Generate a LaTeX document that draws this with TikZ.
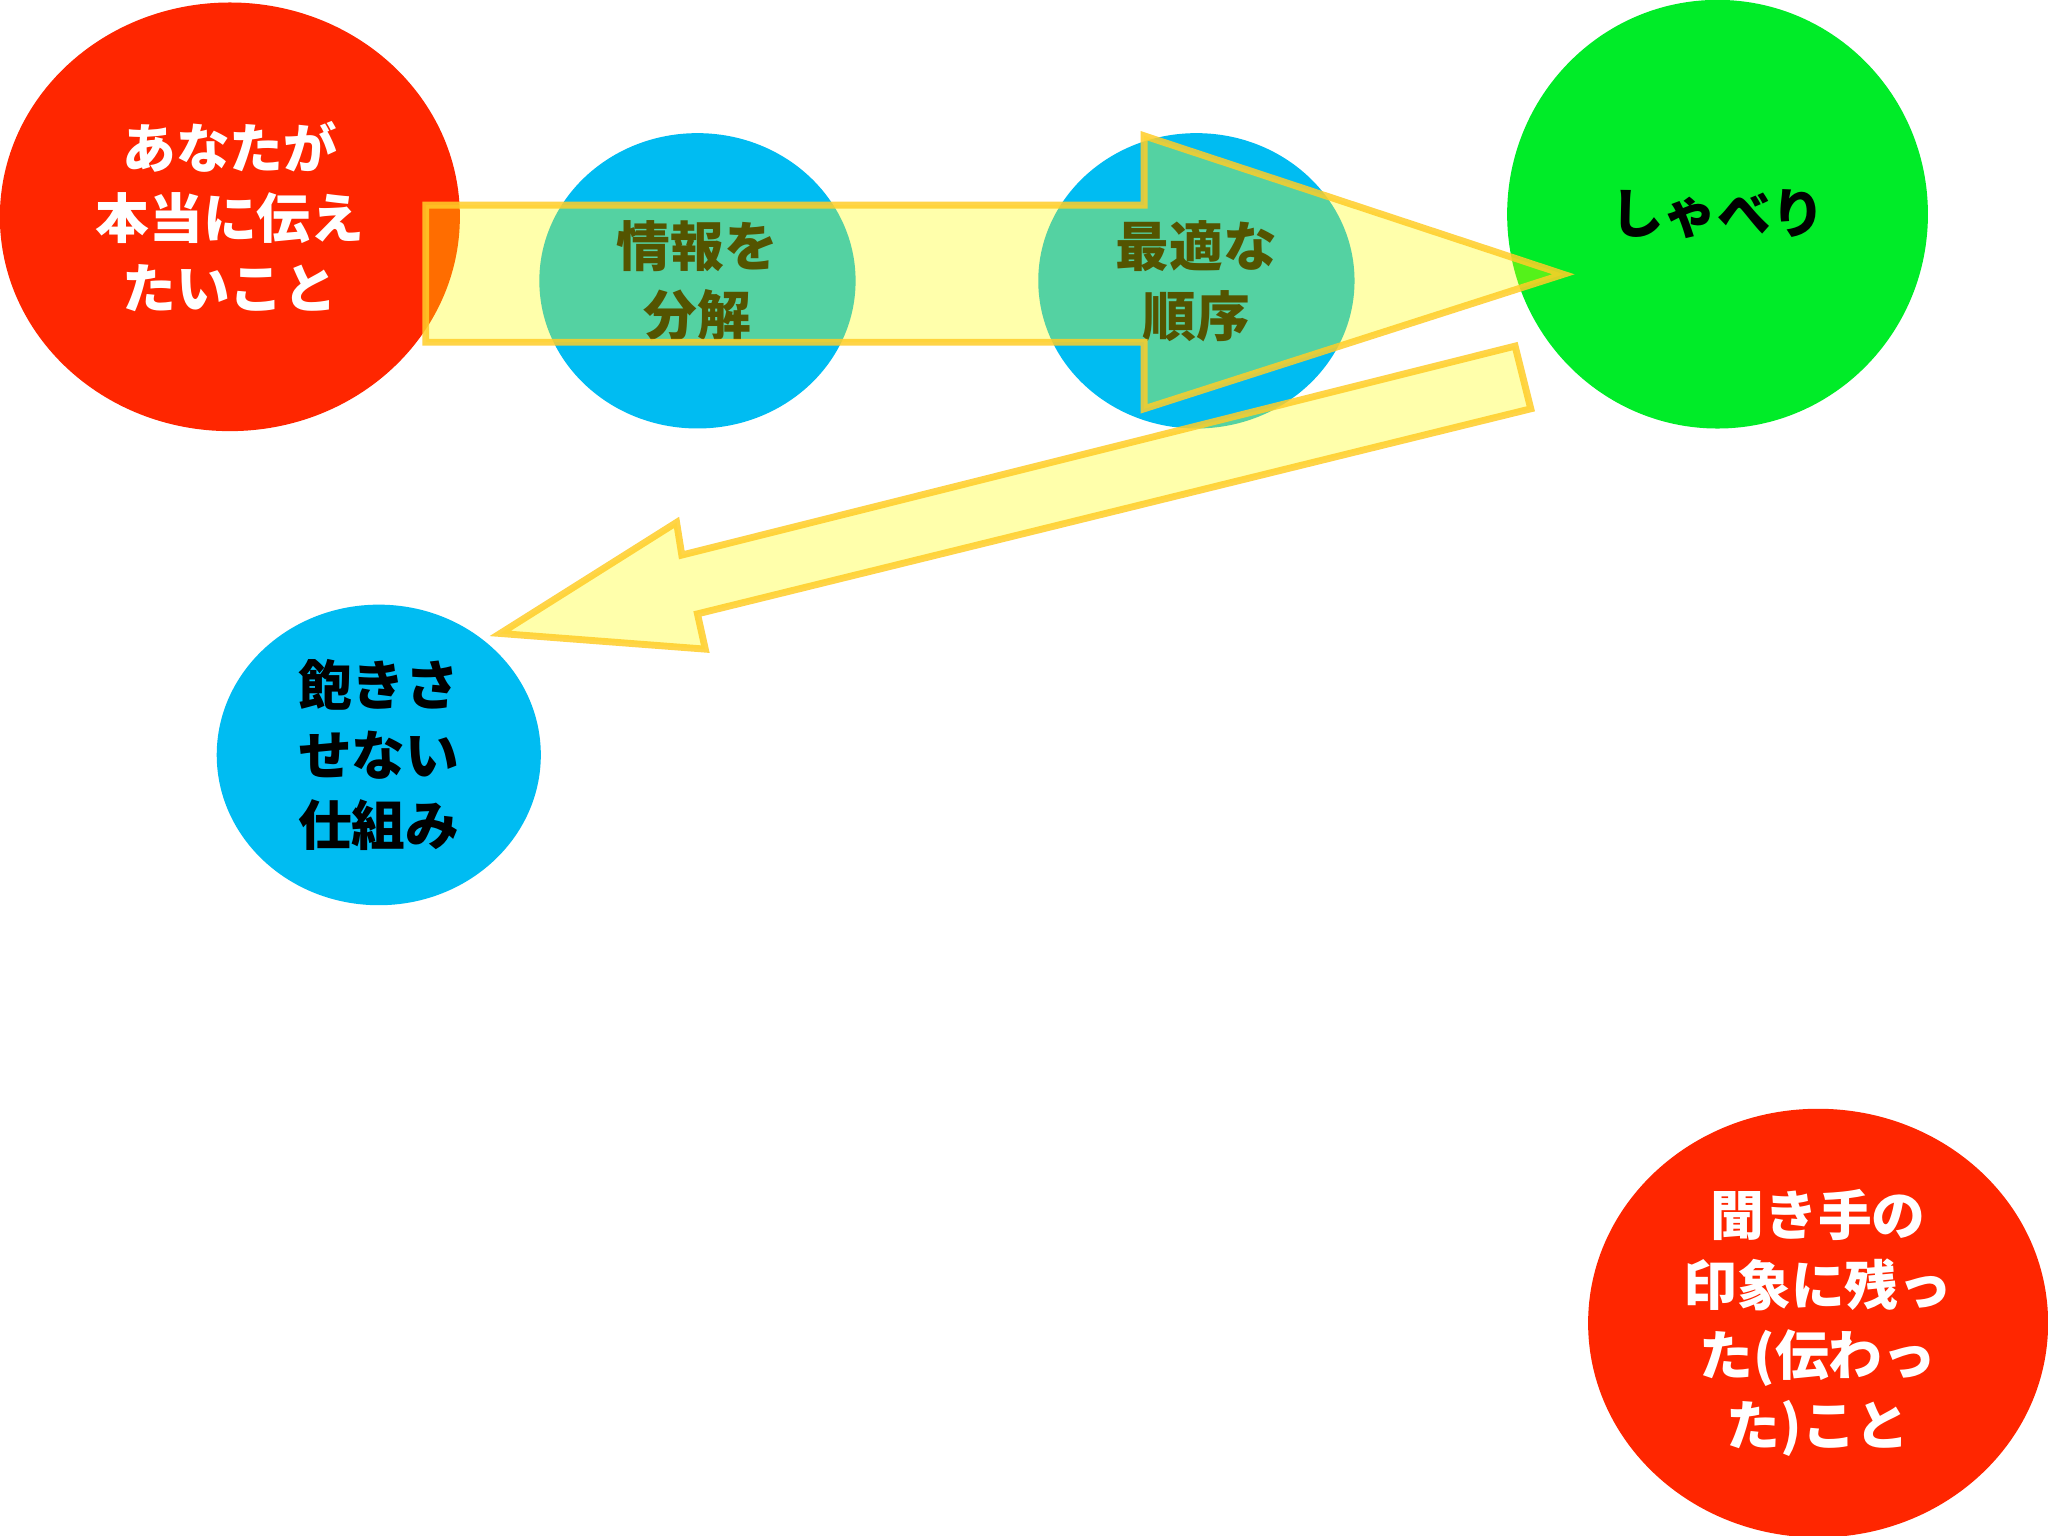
\documentclass[tikz,border=0pt]{standalone}
\usepackage{fontspec}
\newfontfamily\jp{Noto Sans CJK JP}
\usetikzlibrary{shapes.geometric}
\definecolor{cred}{RGB}{255,38,0}
\definecolor{cblue}{RGB}{0,188,242}
\definecolor{cgreen}{RGB}{0,236,40}
\definecolor{agold}{RGB}{255,205,40}
\definecolor{ayellow}{RGB}{255,255,0}
\begin{document}
\begin{tikzpicture}[x=0.01cm,y=-0.01cm,
 bubble/.style={ellipse, inner sep=0pt, align=center, font=\jp\bfseries\fontsize{11.7}{15.2}\selectfont},
 redb/.style={bubble, fill=cred, text=white, minimum width=3.52cm, minimum height=3.28cm},
 blueb/.style={bubble, fill=cblue, text=black, minimum width=2.42cm, minimum height=2.26cm},
 greenb/.style={bubble, fill=cgreen, text=black, minimum width=3.22cm, minimum height=3.28cm},
 bigarrow/.style={draw=agold, draw opacity=0.85, line width=1.5pt, fill=ayellow, fill opacity=0.33, line join=miter}]
\useasboundingbox (0,0) rectangle (1568,1176);
\fill[white] (0,0) rectangle (1568,1176);
\node[redb] (want) at (176,166) {あなたが\\本当に伝え\\たいこと};
\node[blueb] (split) at (534,215) {情報を\\分解};
\node[blueb] (order) at (916,215) {最適な\\順序};
\node[greenb] (talk) at (1315,164) {しゃべり};
\node[blueb, minimum width=2.48cm, minimum height=2.30cm] (hook) at (290,578) {飽きさ\\せない\\仕組み};
\node[redb] (heard) at (1392,1013) {聞き手の\\印象に残っ\\た(伝わっ\\た)こと};
\coordinate (tip1) at (1197,210);
\coordinate (tip2) at (383,485);
\draw[bigarrow] (326,157) -- (876,157) -- (876,104) -- (tip1) -- (876,313) -- (876,262) -- (326,262) -- cycle;
\draw[bigarrow] (1160,265) -- (522,425) -- (518,400) -- (tip2) -- (540,497) -- (534,470) -- (1172,313) -- cycle;
\end{tikzpicture}
\end{document}
